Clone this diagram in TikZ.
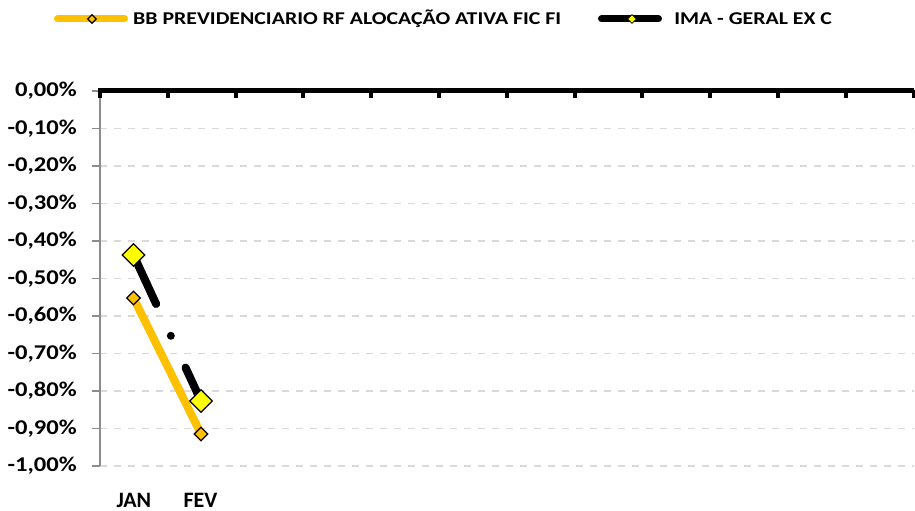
\documentclass[tikz,border=0pt]{standalone}
\usepackage{fontspec}
\setmainfont{Carlito}
\usetikzlibrary{shapes.geometric}
\definecolor{orng}{HTML}{FFC000}
\definecolor{yel}{HTML}{FFFF00}
\definecolor{gridc}{HTML}{D9D9D9}
\definecolor{axgray}{HTML}{8C8C8C}
\begin{document}
\begin{tikzpicture}[x=1pt,y=-1pt,
  ylab/.style={anchor=east,inner sep=0pt,font=\bfseries\fontsize{21}{21}\selectfont,xscale=1.17},
  xlab/.style={anchor=base,inner sep=0pt,font=\bfseries\fontsize{22}{22}\selectfont},
  leglab/.style={anchor=west,inner sep=0pt,font=\bfseries\fontsize{18}{18}\selectfont,xscale=1.21},
  gridline/.style={gridc,line width=1.5pt,dash pattern=on 7pt off 7pt},
  bigdia/.style={diamond,draw=black,line width=1.3pt,fill=yel,minimum width=23pt,minimum height=23pt,inner sep=0pt},
  smalldia/.style={diamond,draw=black,line width=1.2pt,fill=orng,minimum width=14pt,minimum height=14pt,inner sep=0pt},
  legdiaA/.style={diamond,draw=black,line width=1.2pt,fill=orng,minimum width=9pt,minimum height=9pt,inner sep=0pt},
  legdiaB/.style={diamond,draw=black,line width=0.6pt,fill=yel,minimum width=9pt,minimum height=9pt,inner sep=0pt},
  serA/.style={orng,line width=8pt},
  serB/.style={black,line width=8pt,line cap=round,dash pattern=on 54pt off 35pt on 0pt off 35pt},
]
\useasboundingbox (0,0) rectangle (915,511);
% gridlines
\foreach \k in {1,...,10}{
  \draw[gridline] (100,{91+37.5*\k}) -- (914,{91+37.5*\k});
}
% y axis
\draw[axgray,line width=1.5pt] (100,91) -- (100,466);
\foreach \k in {0,...,10}{
  \draw[axgray,line width=1.5pt] (92,{91+37.5*\k}) -- (100,{91+37.5*\k});
}
% y labels
\foreach \k/\t in {0/{0,00\%},1/{-0,10\%},2/{-0,20\%},3/{-0,30\%},4/{-0,40\%},5/{-0,50\%},6/{-0,60\%},7/{-0,70\%},8/{-0,80\%},9/{-0,90\%},10/{-1,00\%}}{
  \node[ylab] (yl\k) at (77,{91+37.5*\k}) {\t};
}
% top axis
\draw[black,line width=5pt] (98,90.5) -- (914,90.5);
\foreach \k in {0,...,12}{
  \draw[black,line width=4pt] ({100+67.8*\k},90) -- ({100+67.8*\k},98);
}
% x labels
\node[xlab] (xjan) at (133.9,507) {JAN};
\node[xlab] (xfev) at (200.5,507) {FEV};
% data points
\coordinate (ij) at (133.5,255);
\coordinate (if) at (201,401);
\coordinate (bj) at (133.5,298);
\coordinate (bf) at (201,434);
\draw[serA] (bj) -- (bf);
\draw[serB] (ij) -- (if);
\node[smalldia] (mbj) at (bj) {};
\node[smalldia] (mbf) at (bf) {};
\node[bigdia] (mij) at (ij) {};
\node[bigdia] (mif) at (if) {};
% legend
\coordinate (la1) at (57.5,19);
\coordinate (la2) at (124.5,19);
\draw[orng,line width=7pt,line cap=round] (la1) -- (la2);
\node[legdiaA] (lda) at (92,19) {};
\node[leglab] (lta) at (133,19) {BB PREVIDENCIARIO RF ALOCAÇÃO ATIVA FIC FI};
\coordinate (lb1) at (601.5,19);
\coordinate (lb2) at (658.5,19);
\draw[black,line width=7pt,line cap=round] (lb1) -- (lb2);
\node[legdiaB] (ldb) at (632,19) {};
\node[leglab] (ltb) at (674,19) {IMA - GERAL EX C};
\end{tikzpicture}
\end{document}
